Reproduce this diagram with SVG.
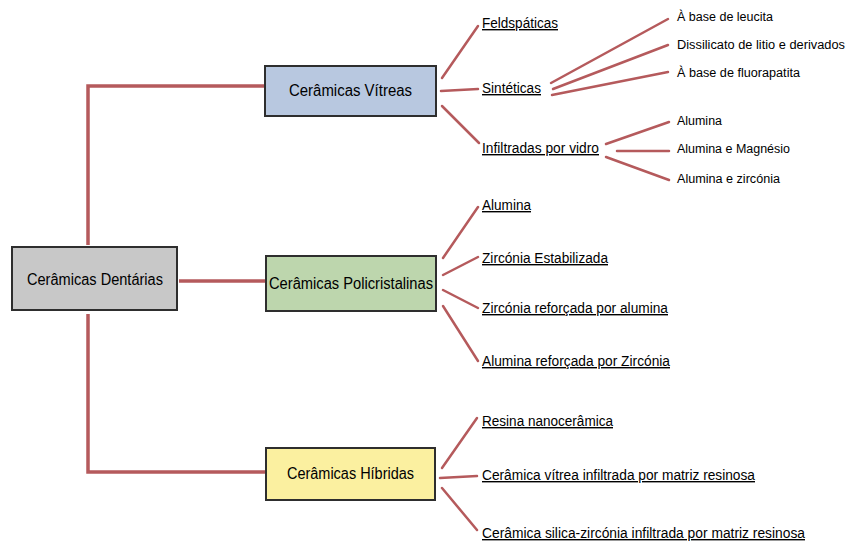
<svg xmlns="http://www.w3.org/2000/svg" width="846" height="543" viewBox="0 0 846 543">
<style>
.box{stroke:#2e2e2e;stroke-width:2}
.main{fill:none;stroke:#b55a5c;stroke-width:3.5}
.br{fill:none;stroke:#b55a5c;stroke-width:2.5;stroke-linecap:round}
.t{font-family:"Liberation Sans",Arial,sans-serif;fill:#000}
.h{font-size:16px}
.u{font-size:14px;text-decoration:underline}
.s{font-size:12.5px}
</style>
<rect width="846" height="543" fill="#ffffff"/>
<g id="connectors">
<polyline class="main" points="88,245 88,86 265,86"/>
<line class="main" x1="179" y1="281" x2="266" y2="281"/>
<polyline class="main" points="88,314 88,472 266,472"/>
<line class="br" x1="442" y1="78" x2="478" y2="26"/>
<line class="br" x1="441" y1="91" x2="478" y2="89"/>
<line class="br" x1="442" y1="106" x2="479" y2="143"/>
<line class="br" x1="551" y1="83" x2="668" y2="19"/>
<line class="br" x1="553" y1="89" x2="668" y2="45"/>
<line class="br" x1="552" y1="95" x2="668" y2="72"/>
<line class="br" x1="606" y1="144" x2="669" y2="122"/>
<line class="br" x1="617" y1="151" x2="669" y2="151"/>
<line class="br" x1="606" y1="157" x2="669" y2="180"/>
<line class="br" x1="443" y1="258" x2="478" y2="207"/>
<line class="br" x1="443" y1="275" x2="478" y2="257"/>
<line class="br" x1="443" y1="290" x2="478" y2="308"/>
<line class="br" x1="443" y1="306" x2="478" y2="361"/>
<line class="br" x1="442" y1="468" x2="477" y2="418"/>
<line class="br" x1="440" y1="478" x2="477" y2="476"/>
<line class="br" x1="442" y1="488" x2="477" y2="530"/>
</g>
<g id="n-dentarias">
<rect class="box" x="12" y="247" width="165" height="63" fill="#c8c8c8"/>
<text class="t h" x="27" y="285" textLength="136" lengthAdjust="spacingAndGlyphs">Cerâmicas Dentárias</text>
</g>
<g id="n-vitreas">
<rect class="box" x="265" y="66" width="171" height="50" fill="#b8c8e0"/>
<text class="t h" x="289" y="96" textLength="123" lengthAdjust="spacingAndGlyphs">Cerâmicas Vítreas</text>
</g>
<g id="n-policristalinas">
<rect class="box" x="266" y="256" width="170" height="55" fill="#bdd6ad"/>
<text class="t h" x="269" y="289" textLength="164" lengthAdjust="spacingAndGlyphs">Cerâmicas Policristalinas</text>
</g>
<g id="n-hibridas">
<rect class="box" x="266" y="448" width="169" height="52" fill="#fbf0a0"/>
<text class="t h" x="287" y="479" textLength="127" lengthAdjust="spacingAndGlyphs">Cerâmicas Híbridas</text>
</g>
<g id="n-feldspaticas"><text class="t u" x="482" y="28" textLength="76" lengthAdjust="spacingAndGlyphs">Feldspáticas</text></g>
<g id="n-sinteticas"><text class="t u" x="482" y="93" textLength="59" lengthAdjust="spacingAndGlyphs">Sintéticas</text></g>
<g id="n-infiltradas"><text class="t u" x="482" y="153" textLength="117" lengthAdjust="spacingAndGlyphs">Infiltradas por vidro</text></g>
<g id="n-leucita"><text class="t s" x="677" y="21" textLength="96" lengthAdjust="spacingAndGlyphs">À base de leucita</text></g>
<g id="n-dissilicato"><text class="t s" x="677" y="49" textLength="168" lengthAdjust="spacingAndGlyphs">Dissilicato de litio e derivados</text></g>
<g id="n-fluorapatita"><text class="t s" x="677" y="77" textLength="123" lengthAdjust="spacingAndGlyphs">À base de fluorapatita</text></g>
<g id="n-alumina-v"><text class="t s" x="677" y="125" textLength="45" lengthAdjust="spacingAndGlyphs">Alumina</text></g>
<g id="n-alumina-magnesio"><text class="t s" x="677" y="153" textLength="113" lengthAdjust="spacingAndGlyphs">Alumina e Magnésio</text></g>
<g id="n-alumina-zirconia"><text class="t s" x="677" y="183" textLength="103" lengthAdjust="spacingAndGlyphs">Alumina e zircónia</text></g>
<g id="n-alumina-p"><text class="t u" x="482" y="210" textLength="49" lengthAdjust="spacingAndGlyphs">Alumina</text></g>
<g id="n-zirconia-est"><text class="t u" x="482" y="263" textLength="126" lengthAdjust="spacingAndGlyphs">Zircónia Estabilizada</text></g>
<g id="n-zirconia-ref"><text class="t u" x="482" y="313" textLength="186" lengthAdjust="spacingAndGlyphs">Zircónia reforçada por alumina</text></g>
<g id="n-alumina-ref"><text class="t u" x="482" y="366" textLength="188" lengthAdjust="spacingAndGlyphs">Alumina reforçada por Zircónia</text></g>
<g id="n-resina"><text class="t u" x="482" y="426" textLength="131" lengthAdjust="spacingAndGlyphs">Resina nanocerâmica</text></g>
<g id="n-vitrea-inf"><text class="t u" x="482" y="480" textLength="273" lengthAdjust="spacingAndGlyphs">Cerâmica vítrea infiltrada por matriz resinosa</text></g>
<g id="n-silica-inf"><text class="t u" x="482" y="538" textLength="323" lengthAdjust="spacingAndGlyphs">Cerâmica silica-zircónia infiltrada por matriz resinosa</text></g>
</svg>
